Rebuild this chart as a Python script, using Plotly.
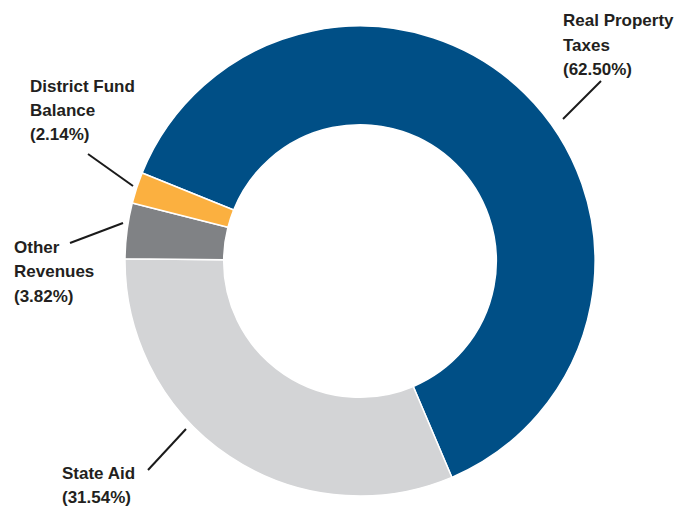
import plotly.graph_objects as go

# ---- data ----
categories = ["Real Property Taxes", "State Aid", "Other Revenues", "District Fund Balance"]
values = [62.50, 31.54, 3.82, 2.14]
label_lines = [["Real Property", "Taxes"], ["State Aid"], ["Other", "Revenues"], ["District Fund", "Balance"]]

# ---- style / layout ----
W, H = 686, 510
colors = ["#004f86", "#d3d4d6", "#808285", "#fbb040"]
FONT = "Liberation Sans, Arial, sans-serif"
TEXT_COLOR = "#231f20"
CX, CY, R = 360, 261, 235  # pie centre and radius in pixels
LINE_GAP = 24.5

# label block: left x and centre y of first line (px); leader line (px) per category
label_pos = [(563, 21), (62, 473), (14, 247), (30, 86)]
leaders = [((563, 119), (601, 81)), ((186, 429), (148, 470)),
           ((123, 223), (70, 243)), ((133, 186), (88, 154))]


def px(x):
    return x / W


def py(y):
    return 1 - y / H


fig = go.Figure(go.Pie(
    labels=categories, values=values, sort=False, direction="clockwise",
    rotation=292, hole=0.58,
    marker=dict(colors=colors, line=dict(color="white", width=1.5)),
    textinfo="none", hoverinfo="label+percent",
    domain=dict(x=[px(CX - R), px(CX + R)], y=[py(CY + R), py(CY - R)]),
    showlegend=False,
))

annotations = []
shapes = []
for lines, v, (lx, ly), (p0, p1) in zip(label_lines, values, label_pos, leaders):
    for k, t in enumerate(lines + [f"({v:.2f}%)"]):
        annotations.append(dict(
            x=px(lx), y=py(ly + k * LINE_GAP), xref="paper", yref="paper",
            xanchor="left", yanchor="middle", text=t, showarrow=False,
            borderpad=0, xshift=-1,
            font=dict(family=FONT, size=17, color=TEXT_COLOR, weight="bold"),
        ))
    shapes.append(dict(type="line", xref="paper", yref="paper",
                       x0=px(p0[0]), y0=py(p0[1]), x1=px(p1[0]), y1=py(p1[1]),
                       line=dict(color="#1a1a1a", width=2)))

fig.update_layout(
    width=W, height=H, margin=dict(l=0, r=0, t=0, b=0),
    paper_bgcolor="white", plot_bgcolor="white",
    annotations=annotations, shapes=shapes,
    font=dict(family=FONT, color=TEXT_COLOR),
)

fig.write_html("out.html", config={"displayModeBar": False},
               post_script="document.body.style.margin='0';document.body.style.overflow='hidden';")
